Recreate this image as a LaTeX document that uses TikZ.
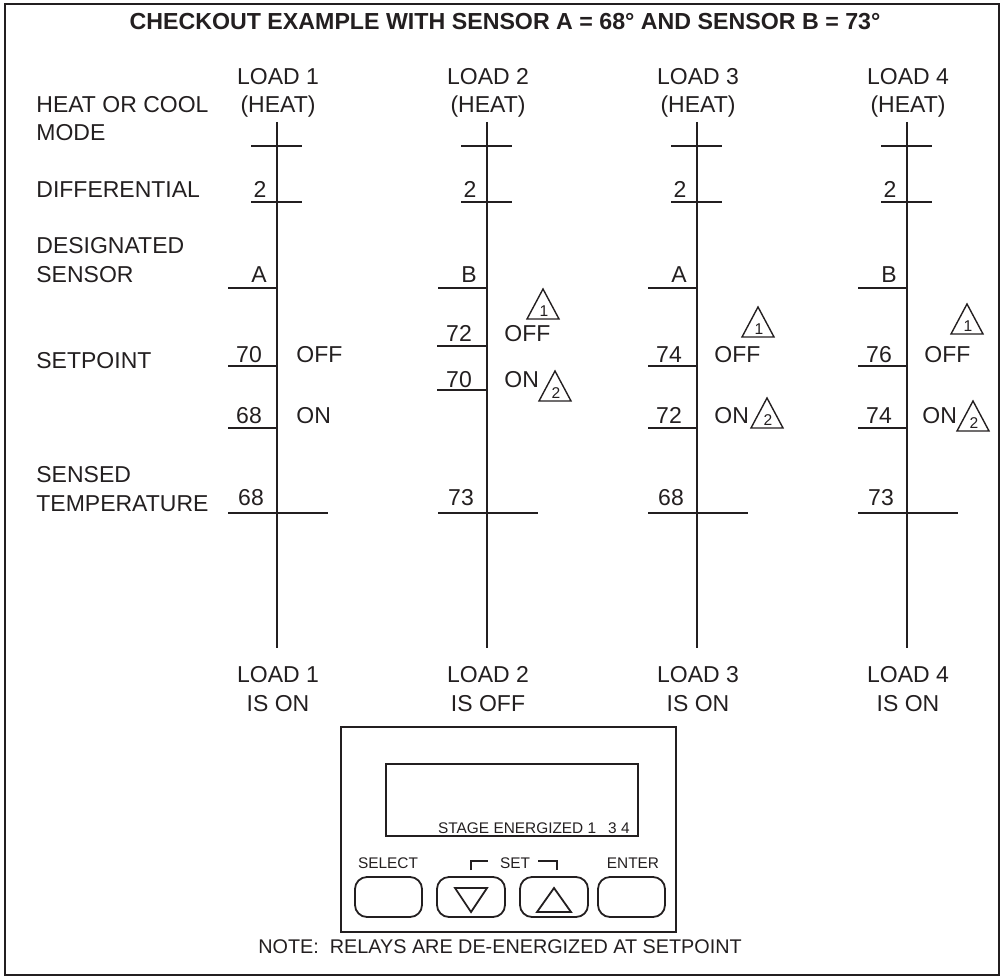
\documentclass[tikz,border=0pt]{standalone}
\usepackage{fontspec}
\setmainfont{Liberation Sans}
\usepackage{tikz}
\usetikzlibrary{positioning}
\definecolor{ckInk}{RGB}{35,31,32}

\tikzset{
  txt/.style={font=\fontsize{11.5}{13}\selectfont, text=ckInk, inner sep=0pt, anchor=base},
  lefttxt/.style={txt, anchor=base west},
  small/.style={font=\fontsize{7.7}{9}\selectfont, text=ckInk, inner sep=0pt, anchor=base},
  axis/.style={ckInk, line width=1.4pt},
  tick/.style={ckInk, line width=1.4pt},
  boxline/.style={ckInk, line width=1pt},
  key/.style={ckInk, line width=0.9pt, rounded corners=6pt},
  pics/flagtri/.style={code={
    \draw[ckInk, line width=0.7pt] (0,0) -- (-16,30) -- (16,30) -- cycle;
    \node[font=\fontsize{7.8}{9}\selectfont, text=ckInk, inner sep=0pt, anchor=base] (-num) at (1,27) {#1};
  }}
}

\begin{document}
\begin{tikzpicture}[x=0.5pt, y=-0.5pt]
  \useasboundingbox (0,0) rectangle (1004,978);

  % Frame and title
  \draw[boxline] (5,4) rectangle (999,975);
  \node[txt, font=\bfseries\fontsize{11.6}{13}\selectfont] (title) at (505,30) {CHECKOUT EXAMPLE WITH SENSOR A = 68° AND SENSOR B = 73°};

  % Row labels
  \node[lefttxt] (modeA) at (36,113) {HEAT OR COOL};
  \node[lefttxt] (modeB) at (36,141) {MODE};
  \node[lefttxt] (diff) at (36,198) {DIFFERENTIAL};
  \node[lefttxt] (desA) at (36,254) {DESIGNATED};
  \node[lefttxt] (desB) at (36,282) {SENSOR};
  \node[lefttxt] (setp) at (36,368) {SETPOINT};
  \node[lefttxt] (sensA) at (36,482) {SENSED};
  \node[lefttxt] (sensB) at (36,511) {TEMPERATURE};

  % Load 1
  \begin{scope}[shift={(277,0)}]
    \node[txt] (top1) at (1,85) {LOAD 1};
    \node[txt] (heat1) at (1,113) {(HEAT)};
    \draw[axis] (0,122) -- (0,648);
    \draw[tick] (-26,146) -- (25,146);
    \draw[tick] (-26,202) -- (25,202);
    \node[txt] (dif1) at (-17,198) {2};
    \draw[tick] (-49,288) -- (0,288);
    \node[txt] (sen1) at (-18,282) {A};
    \draw[tick] (-49,366) -- (0,366);
    \node[txt] (offv1) at (-28,362) {70};
    \node[lefttxt] (off1) at (19,362) {OFF};
    \draw[tick] (-49,428) -- (0,428);
    \node[txt] (onv1) at (-28,423) {68};
    \node[lefttxt] (on1) at (19,423) {ON};
    \draw[tick] (-49,513) -- (51,513);
    \node[txt] (temp1) at (-26,505) {68};
    \node[txt] (bot1) at (1,682) {LOAD 1};
    \node[txt] (state1) at (1,711) {IS ON};
  \end{scope}

  % Load 2
  \begin{scope}[shift={(487,0)}]
    \node[txt] (top2) at (1,85) {LOAD 2};
    \node[txt] (heat2) at (1,113) {(HEAT)};
    \draw[axis] (0,122) -- (0,648);
    \draw[tick] (-26,146) -- (25,146);
    \draw[tick] (-26,202) -- (25,202);
    \node[txt] (dif2) at (-17,198) {2};
    \draw[tick] (-49,288) -- (0,288);
    \node[txt] (sen2) at (-18,282) {B};
    \pic (tri21) at (56,289) {flagtri=1};
    \draw[tick] (-50,346) -- (0,346);
    \node[txt] (offv2) at (-28,341) {72};
    \node[lefttxt] (off2) at (17,341) {OFF};
    \draw[tick] (-50,390) -- (0,390);
    \node[txt] (onv2) at (-28,387) {70};
    \node[lefttxt] (on2) at (17,387) {ON};
    \pic (tri22) at (68,371) {flagtri=2};
    \draw[tick] (-49,513) -- (51,513);
    \node[txt] (temp2) at (-26,505) {73};
    \node[txt] (bot2) at (1,682) {LOAD 2};
    \node[txt] (state2) at (1,711) {IS OFF};
  \end{scope}

  % Load 3
  \begin{scope}[shift={(697,0)}]
    \node[txt] (top3) at (1,85) {LOAD 3};
    \node[txt] (heat3) at (1,113) {(HEAT)};
    \draw[axis] (0,122) -- (0,648);
    \draw[tick] (-26,146) -- (25,146);
    \draw[tick] (-26,202) -- (25,202);
    \node[txt] (dif3) at (-17,198) {2};
    \draw[tick] (-49,288) -- (0,288);
    \node[txt] (sen3) at (-18,282) {A};
    \pic (tri31) at (61,307) {flagtri=1};
    \draw[tick] (-49,366) -- (0,366);
    \node[txt] (offv3) at (-28,362) {74};
    \node[lefttxt] (off3) at (17,362) {OFF};
    \draw[tick] (-49,428) -- (0,428);
    \node[txt] (onv3) at (-28,423) {72};
    \node[lefttxt] (on3) at (17,423) {ON};
    \pic (tri32) at (70,398) {flagtri=2};
    \draw[tick] (-49,513) -- (51,513);
    \node[txt] (temp3) at (-26,505) {68};
    \node[txt] (bot3) at (1,682) {LOAD 3};
    \node[txt] (state3) at (1,711) {IS ON};
  \end{scope}

  % Load 4
  \begin{scope}[shift={(907,0)}]
    \node[txt] (top4) at (1,85) {LOAD 4};
    \node[txt] (heat4) at (1,113) {(HEAT)};
    \draw[axis] (0,122) -- (0,648);
    \draw[tick] (-26,146) -- (25,146);
    \draw[tick] (-26,202) -- (25,202);
    \node[txt] (dif4) at (-17,198) {2};
    \draw[tick] (-49,288) -- (0,288);
    \node[txt] (sen4) at (-18,282) {B};
    \pic (tri41) at (60,304) {flagtri=1};
    \draw[tick] (-49,366) -- (0,366);
    \node[txt] (offv4) at (-28,362) {76};
    \node[lefttxt] (off4) at (17,362) {OFF};
    \draw[tick] (-49,428) -- (0,428);
    \node[txt] (onv4) at (-28,423) {74};
    \node[lefttxt] (on4) at (15,423) {ON};
    \pic (tri42) at (66,401) {flagtri=2};
    \draw[tick] (-49,513) -- (51,513);
    \node[txt] (temp4) at (-26,505) {73};
    \node[txt] (bot4) at (1,682) {LOAD 4};
    \node[txt] (state4) at (1,711) {IS ON};
  \end{scope}

  % Control panel
  \draw[boxline] (341,727) rectangle (676,932);
  \draw[boxline] (386,764) rectangle (638,836);
  \node[small, anchor=base east] (stage) at (630,833) {STAGE ENERGIZED 1\hspace{6pt}3 4};
  \node[small] (select) at (388,868) {SELECT};
  \node[small] (set) at (515,868) {SET};
  \node[small] (enter) at (633,868) {ENTER};
  \draw[ckInk, line width=1.3pt] (471,870) -- (471,861) -- (488,861);
  \draw[ckInk, line width=1.3pt] (538,861) -- (557,861) -- (557,870);
  \draw[key] (355,877) rectangle (422,917);
  \draw[key] (437,877) rectangle (505,917);
  \draw[key] (520,877) rectangle (588,917);
  \draw[key] (598,877) rectangle (665,917);
  \draw[ckInk, line width=0.9pt] (455,888) -- (487,888) -- (471,912) -- cycle;
  \draw[ckInk, line width=0.9pt] (554,888) -- (571,912) -- (537,912) -- cycle;

  % Note
  \node[txt, font=\fontsize{9.9}{12}\selectfont] (note) at (500,953) {NOTE:\ \ RELAYS ARE DE-ENERGIZED AT SETPOINT};
\end{tikzpicture}
\end{document}
